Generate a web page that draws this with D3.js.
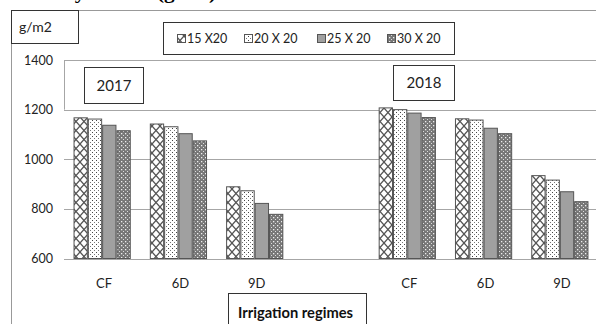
<!DOCTYPE html>
<html><head><meta charset="utf-8">
<script src="https://cdn.jsdelivr.net/npm/d3@7"></script>
<style>
html,body{margin:0;padding:0;background:#fff;}
svg{display:block;}
text{font-family:Lato,"Open Sans",sans-serif;fill:#222;}
</style></head>
<body>
<script>
const years = ["2017","2018"];
const regimes = ["CF","6D","9D"];
const slots = ["2017-CF","2017-6D","2017-9D","gap","2018-CF","2018-6D","2018-9D"];
const seriesNames = ["15 X20","20 X 20","25 X 20","30 X 20"];
const s15 = [1167,1142,889,1207,1163,934];
const s20 = [1162,1131,873,1200,1158,916];
const s25 = [1137,1103,822,1186,1125,869];
const s30 = [1115,1074,778,1168,1103,829];
const yTicks = [600,800,1000,1200,1400];
const series = [s15,s20,s25,s30];
const barSlots = ["2017-CF","2017-6D","2017-9D","2018-CF","2018-6D","2018-9D"];
const barLabels = ["CF","6D","9D","CF","6D","9D"];

const W=596,H=324;
const svg=d3.select("body").append("svg").attr("width",W).attr("height",H);
const defs=svg.append("defs");
// patterns
const p1=defs.append("pattern").attr("id","pat0").attr("patternUnits","userSpaceOnUse").attr("width",8).attr("height",9);
p1.append("rect").attr("width",8).attr("height",9).attr("fill","#fff");
p1.append("path").attr("d","M0,0L8,9M8,0L0,9").attr("stroke","#555").attr("stroke-width",1.3);
const p2=defs.append("pattern").attr("id","pat1").attr("patternUnits","userSpaceOnUse").attr("width",4).attr("height",4);
p2.append("rect").attr("width",4).attr("height",4).attr("fill","#fff");
p2.append("rect").attr("x",0).attr("y",0).attr("width",1).attr("height",1).attr("fill","#444");
p2.append("rect").attr("x",2).attr("y",2).attr("width",1).attr("height",1).attr("fill","#777");
const p4=defs.append("pattern").attr("id","pat3").attr("patternUnits","userSpaceOnUse").attr("width",4).attr("height",4);
p4.append("rect").attr("width",4).attr("height",4).attr("fill","#777");
p4.append("rect").attr("x",1).attr("y",1).attr("width",1.3).attr("height",1.3).attr("fill","#eee");
p4.append("rect").attr("x",3).attr("y",3).attr("width",1).attr("height",1).attr("fill","#ddd");
const fills=["url(#pat0)","url(#pat1)","#a0a0a0","url(#pat3)"];

// title (cropped at the top edge, as in the reference)
svg.append("text").attr("x",50).attr("y",-1).attr("textLength",166).attr("lengthAdjust","spacingAndGlyphs")
  .style("font-family","'Liberation Serif',serif").style("font-weight","bold").style("font-size","19px").style("fill","#000")
  .text("Dry matter (g/m2)");

// outer border
svg.append("path").attr("d","M11.5,324V10.5H596").attr("fill","none").attr("stroke","#999").attr("stroke-width",1);

const x0=d3.scaleBand().domain(slots).range([64,598]).paddingInner(0.25).paddingOuter(0.125);
const x1=d3.scaleBand().domain(d3.range(4)).range([0,x0.bandwidth()]);
const y=d3.scaleLinear().domain([600,1400]).range([258.5,60]);

// gridlines
svg.append("g").selectAll("line").data(yTicks).join("line")
  .attr("x1",64).attr("x2",598).attr("y1",d=>Math.round(y(d))+0.5).attr("y2",d=>Math.round(y(d))+0.5)
  .attr("stroke","#a6a6a6").attr("stroke-width",1.2);
svg.append("line").attr("x1",64.5).attr("x2",64.5).attr("y1",y(1400)).attr("y2",y(1200)).attr("stroke","#a6a6a6");

// y labels
const yAxis=d3.axisLeft(y).tickValues(yTicks).tickFormat(d3.format("d")).tickSize(0).tickPadding(0);
const ga=svg.append("g").attr("transform","translate(53,0)").call(yAxis);
ga.select(".domain").remove();
ga.selectAll("text").style("font-family","Lato,sans-serif").style("font-size","12.5px").style("fill","#222");

// bars
const g=svg.append("g");
series.forEach((s,si)=>{
  g.append("g").selectAll("rect").data(s).join("rect")
   .attr("x",(d,i)=>x0(barSlots[i])+x1(si)+0.5)
   .attr("y",d=>y(d))
   .attr("width",x1.bandwidth()-1)
   .attr("height",d=>y(600)-y(d))
   .attr("fill",fills[si]).attr("stroke","#555").attr("stroke-width",1);
});

// x labels
svg.append("g").selectAll("text").data(barLabels).join("text")
  .attr("x",(d,i)=>x0(barSlots[i])+x0.bandwidth()/2+2).attr("y",288)
  .attr("text-anchor","middle").style("font-size","13px").text(d=>d);

// g/m2 box
svg.append("rect").attr("x",11.5).attr("y",10.5).attr("width",67).attr("height",33).attr("fill","#fff").attr("stroke","#333");
svg.append("text").attr("x",19).attr("y",32).style("font-size","14px").text("g/m2");

// legend
svg.append("rect").attr("x",163.5).attr("y",22.5).attr("width",291).attr("height",32).attr("fill","#fff").attr("stroke","#333");
const legX=[177,244,317,387];
seriesNames.forEach((n,i)=>{
  svg.append("rect").attr("x",legX[i]+0.5).attr("y",34.5).attr("width",8).attr("height",8).attr("fill",fills[i]).attr("stroke","#555");
  svg.append("text").attr("x",legX[i]+10).attr("y",43).style("font-size","12.5px").text(n);
});

// year boxes
const yearBoxes=[{x:84,y:67,w:59,h:36},{x:393,y:65,w:61,h:35}];
years.forEach((yr,i)=>{
  const b=yearBoxes[i];
  svg.append("rect").attr("x",b.x+0.5).attr("y",b.y+0.5).attr("width",b.w).attr("height",b.h).attr("fill","#fff").attr("stroke","#333");
  svg.append("text").attr("x",b.x+b.w/2+0.5).attr("y",b.y+b.h/2+5.5).attr("text-anchor","middle").style("font-size","15px").text(yr);
});

// axis title box
svg.append("rect").attr("x",228.5).attr("y",293.5).attr("width",138).attr("height",40).attr("fill","#fff").attr("stroke","#333");
svg.append("text").attr("x",238).attr("y",318).attr("textLength",115).attr("lengthAdjust","spacingAndGlyphs")
  .style("font-size","15px").style("font-weight","bold").style("fill","#111").text("Irrigation regimes");
</script>
</body></html>
